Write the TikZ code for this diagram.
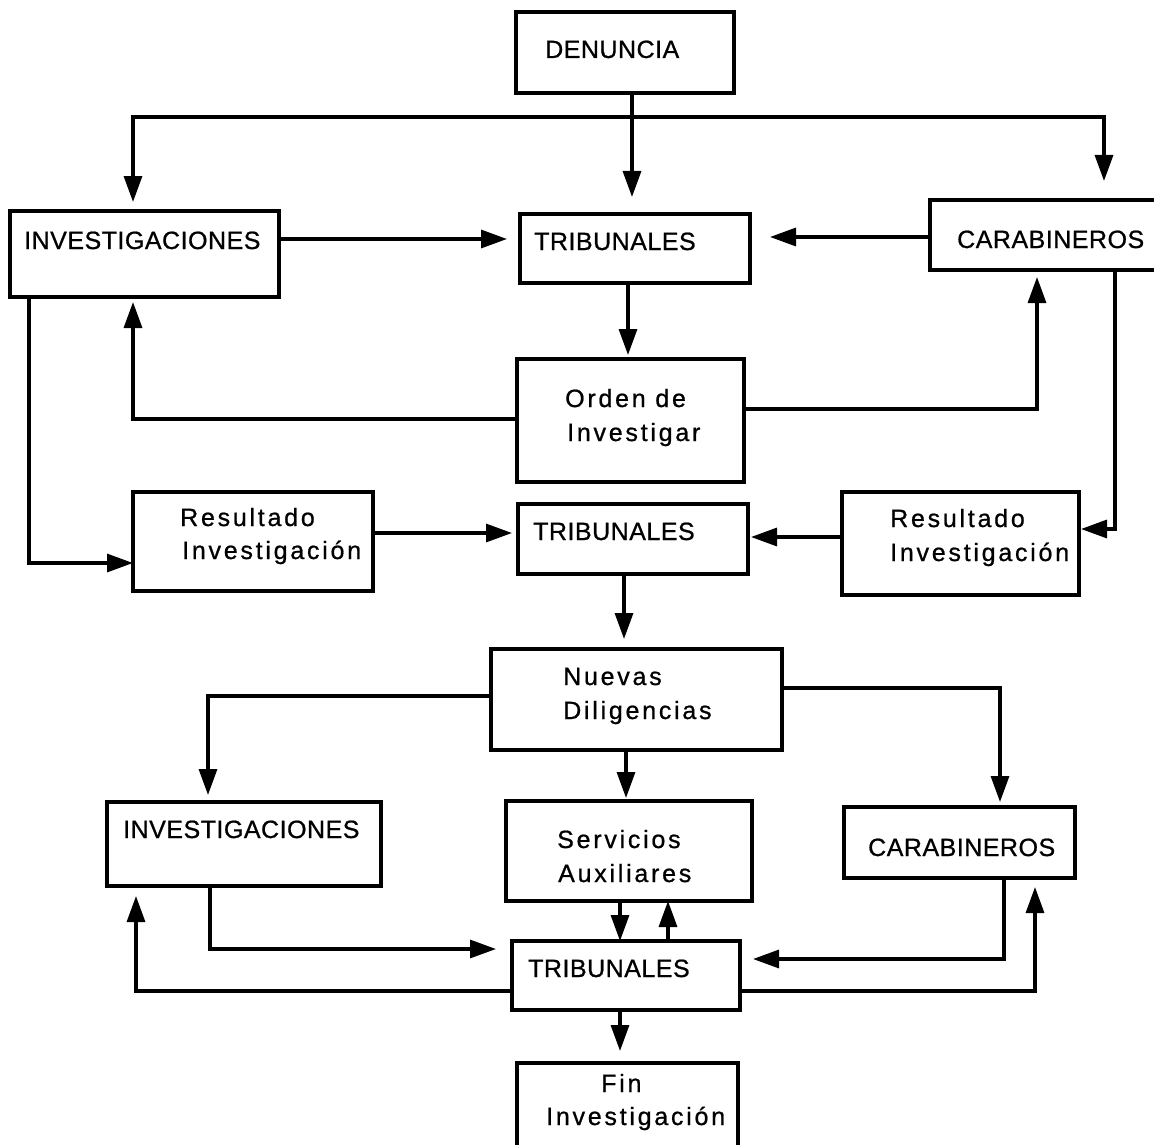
\documentclass[tikz,border=0pt]{standalone}
\usepackage{fontspec}
\setmainfont{Liberation Sans}
\newfontfamily\capsfont{Liberation Sans}[LetterSpace=2, FakeBold=0.8]
\newfontfamily\lowfont{Liberation Sans}[LetterSpace=11, FakeBold=0.8]
\usetikzlibrary{arrows.meta,fit}

\tikzset{
  wire/.style={line width=3.2pt, line join=miter},
  arr/.style={wire, -{Triangle[length=26pt,width=18pt]}},
  box/.style={draw, line width=3.2pt, inner sep=0pt, outer sep=0pt},
  capstext/.style={anchor=base west, inner sep=0pt, font=\capsfont\fontsize{25}{30}\selectfont},
  lowtext/.style={anchor=base west, inner sep=0pt, font=\lowfont\fontsize{25}{30}\selectfont},
}

\begin{document}
\begin{tikzpicture}[x=1pt, y=-1pt]
\useasboundingbox (0,0) rectangle (1154,1145);
\clip (0,0) rectangle (1154,1145);
\fill[white] (0,0) rectangle (1154,1145);

% ---- boxes ----
\node[box, fit={(516,12)(734,93)}]     (den)    {};
\node[box, fit={(10,211)(279,297)}]    (inv1)   {};
\node[box, fit={(520,214)(750,283)}]   (trib1)  {};
\node[box, fit={(930,200)(1170,270)}]  (car1)   {};
\node[box, fit={(517,359)(744,482)}]   (orden)  {};
\node[box, fit={(133,492)(373,591)}]   (resL)   {};
\node[box, fit={(518,504)(748,574)}]   (trib2)  {};
\node[box, fit={(842,492)(1079,595)}]  (resR)   {};
\node[box, fit={(491,649)(782,750)}]   (nuevas) {};
\node[box, fit={(107,802)(381,886)}]   (inv2)   {};
\node[box, fit={(506,801)(752,901)}]   (serv)   {};
\node[box, fit={(844,807)(1075,878)}]  (car2)   {};
\node[box, fit={(512,941)(740,1010)}]  (trib3)  {};
\node[box, fit={(517,1063)(738,1180)}] (fin)    {};

% ---- labels ----
\node[capstext] (tDen)   at (545,58)  {DENUNCIA};
\node[capstext] (tInv1)  at (24,249)  {INVESTIGACIONES};
\node[capstext] (tTrib1) at (534,250) {TRIBUNALES};
\node[capstext] (tCar1)  at (957,248) {CARABINEROS};
\node[lowtext]  (tOrd1)  at (565,407) {Orden de};
\node[lowtext]  (tOrd2)  at (567,441) {Investigar};
\node[lowtext]  (tResL1) at (180,526) {Resultado};
\node[lowtext]  (tResL2) at (182,559) {Investigación};
\node[capstext] (tTrib2) at (533,540) {TRIBUNALES};
\node[lowtext]  (tResR1) at (890,527) {Resultado};
\node[lowtext]  (tResR2) at (890,561) {Investigación};
\node[lowtext]  (tNue1)  at (563,685) {Nuevas};
\node[lowtext]  (tNue2)  at (563,719) {Diligencias};
\node[capstext] (tInv2)  at (123,838) {INVESTIGACIONES};
\node[lowtext]  (tServ1) at (557,848) {Servicios};
\node[lowtext]  (tServ2) at (558,882) {Auxiliares};
\node[capstext] (tCar2)  at (868,856) {CARABINEROS};
\node[capstext] (tTrib3) at (528,977) {TRIBUNALES};
\node[lowtext]  (tFin1)  at (601,1092) {Fin};
\node[lowtext]  (tFin2)  at (546,1125) {Investigación};

% ---- columns and rows used by the connectors ----
\coordinate (cA)    at (133,0);
\coordinate (cB)    at (1104,0);
\coordinate (cDen)  at (632,0);
\coordinate (cT1)   at (628,0);
\coordinate (cLeft) at (29,0);
\coordinate (cRgt)  at (1115,0);
\coordinate (cOr)   at (1037,0);
\coordinate (cT2)   at (624,0);
\coordinate (cN1)   at (208,0);
\coordinate (cN2)   at (1000,0);
\coordinate (cNS)   at (626,0);
\coordinate (cSd)   at (620,0);
\coordinate (cSu)   at (668,0);
\coordinate (cI2)   at (210,0);
\coordinate (cC2)   at (1004,0);
\coordinate (cI2u)  at (136,0);
\coordinate (cC2u)  at (1035,0);
\coordinate (cT3)   at (620,0);
\coordinate (split) at (632,117);
\coordinate (r239)  at (0,239);
\coordinate (r237)  at (0,237);
\coordinate (r419)  at (0,419);
\coordinate (r409)  at (0,409);
\coordinate (r563)  at (0,563);
\coordinate (r529)  at (0,529);
\coordinate (r533)  at (0,533);
\coordinate (r537)  at (0,537);
\coordinate (r696)  at (0,696);
\coordinate (r688)  at (0,688);
\coordinate (r949)  at (0,949);
\coordinate (r959)  at (0,959);
\coordinate (r991)  at (0,991);

% ---- connectors ----
\draw[arr, shorten >=17pt] (den.south -| cDen) -- (trib1.north -| cDen);
\draw[arr, shorten >=9pt]  (split) -| (inv1.north -| cA);
\draw[arr, shorten >=19pt] (split) -| (car1.north -| cB);
\draw[arr, shorten >=13pt] (inv1.east |- r239) -- (trib1.west |- r239);
\draw[arr, shorten >=20pt] (car1.west |- r237) -- (trib1.east |- r237);
\draw[arr, shorten >=4pt]  (trib1.south -| cT1) -- (orden.north -| cT1);
\draw[arr, shorten >=5pt]  (orden.west |- r419) -| (inv1.south -| cA);
\draw[arr, shorten >=7pt]  (orden.east |- r409) -| (car1.south -| cOr);
\draw[arr]                 (inv1.south -| cLeft) |- (resL.west |- r563);
\draw[arr, shorten >=2pt]  (car1.south -| cRgt) |- (resR.east |- r529);
\draw[arr, shorten >=6pt]  (resL.east |- r533) -- (trib2.west |- r533);
\draw[arr, shorten >=3pt]  (resR.west |- r537) -- (trib2.east |- r537);
\draw[arr, shorten >=10pt] (trib2.south -| cT2) -- (nuevas.north -| cT2);
\draw[arr, shorten >=7pt]  (nuevas.west |- r696) -| (inv2.north -| cN1);
\draw[arr, shorten >=5pt]  (nuevas.east |- r688) -| (car2.north -| cN2);
\draw[arr, shorten >=3pt]  (nuevas.south -| cNS) -- (serv.north -| cNS);
\draw[arr]                 (serv.south -| cSd) -- (trib3.north -| cSd);
\draw[arr]                 (trib3.north -| cSu) -- (serv.south -| cSu);
\draw[arr, shorten >=16pt] (inv2.south -| cI2) |- (trib3.west |- r949);
\draw[arr, shorten >=13pt] (car2.south -| cC2) |- (trib3.east |- r959);
\draw[arr, shorten >=10pt] (trib3.west |- r991) -| (inv2.south -| cI2u);
\draw[arr, shorten >=9pt]  (trib3.east |- r991) -| (car2.south -| cC2u);
\draw[arr, shorten >=12pt] (trib3.south -| cT3) -- (fin.north -| cT3);
\end{tikzpicture}
\end{document}
